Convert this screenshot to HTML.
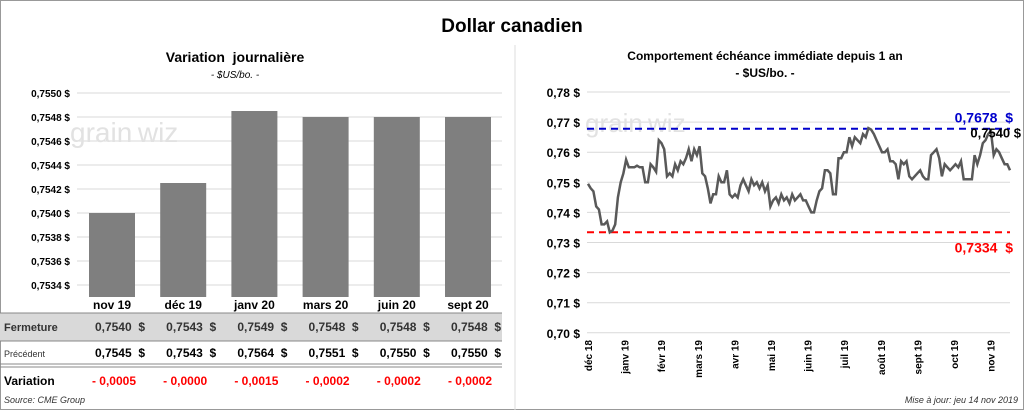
<!DOCTYPE html>
<html><head><meta charset="utf-8"><style>
body{margin:0;width:1024px;height:410px;overflow:hidden;background:#fff;font-family:"Liberation Sans",sans-serif}
svg{display:block}
text{white-space:pre}
</style></head><body>
<svg width="1024" height="410">
<rect x="0.5" y="0.5" width="1023" height="409" fill="#fff" stroke="#999"/>
<text x="512" y="32" text-anchor="middle" font-size="19" font-weight="bold">Dollar canadien</text>
<text x="235" y="62" text-anchor="middle" font-size="14" font-weight="bold">Variation  journalière</text>
<text x="235" y="78" text-anchor="middle" font-size="10" font-style="italic">- $US/bo. -</text>
<text x="765" y="60" text-anchor="middle" font-size="12" font-weight="bold">Comportement échéance immédiate depuis 1 an</text>
<text x="765" y="77" text-anchor="middle" font-size="12" font-weight="bold">- $US/bo. -</text>
<line x1="515" y1="45" x2="515" y2="410" stroke="#ddd"/>
<g id="left"></g>
<g id="table"></g>
<g id="right"></g>
<text x="4" y="403" font-size="9" font-style="italic" fill="#333">Source: CME Group</text>
<text x="1018" y="403" text-anchor="end" font-size="9" font-style="italic" fill="#333">Mise à jour: jeu 14 nov 2019</text>
</svg>
<script>
const barCats=["nov 19","déc 19","janv 20","mars 20","juin 20","sept 20"];
const barVals=[0.7540,0.75425,0.75485,0.7548,0.7548,0.7548];
const yTicksL=[0.7534,0.7536,0.7538,0.7540,0.7542,0.7544,0.7546,0.7548,0.7550];
const closeVals=["0,7540","0,7543","0,7549","0,7548","0,7548","0,7548"];
const prevVals=["0,7545","0,7543","0,7564","0,7551","0,7550","0,7550"];
const varVals=["- 0,0005","- 0,0000","- 0,0015","- 0,0002","- 0,0002","- 0,0002"];
const series=[0.7495,0.748,0.747,0.742,0.741,0.736,0.736,0.737,0.7334,0.734,0.736,0.745,0.750,0.753,0.7575,0.755,0.755,0.755,0.7555,0.755,0.755,0.750,0.750,0.756,0.755,0.7535,0.764,0.763,0.761,0.752,0.753,0.752,0.756,0.754,0.757,0.756,0.758,0.761,0.757,0.761,0.759,0.762,0.753,0.752,0.748,0.743,0.746,0.746,0.752,0.750,0.750,0.754,0.746,0.745,0.746,0.745,0.749,0.751,0.749,0.747,0.751,0.749,0.750,0.748,0.750,0.747,0.749,0.742,0.744,0.745,0.743,0.746,0.744,0.745,0.743,0.746,0.744,0.745,0.746,0.744,0.744,0.742,0.740,0.740,0.744,0.747,0.748,0.754,0.754,0.753,0.746,0.746,0.758,0.758,0.760,0.760,0.765,0.762,0.765,0.764,0.763,0.766,0.765,0.768,0.7675,0.766,0.764,0.762,0.760,0.760,0.761,0.757,0.757,0.756,0.751,0.757,0.756,0.757,0.752,0.751,0.752,0.753,0.754,0.752,0.751,0.751,0.759,0.760,0.761,0.758,0.752,0.756,0.755,0.754,0.755,0.756,0.755,0.757,0.751,0.751,0.751,0.751,0.759,0.756,0.759,0.763,0.764,0.766,0.767,0.759,0.761,0.760,0.758,0.756,0.756,0.754];
const yTicksR=[0.70,0.71,0.72,0.73,0.74,0.75,0.76,0.77,0.78];
const monthLabels=["déc 18","janv 19","févr 19","mars 19","avr 19","mai 19","juin 19","juil 19","août 19","sept 19","oct 19","nov 19"];
const highVal=0.7678, lowVal=0.7334, lastVal=0.7540;
const NS="http://www.w3.org/2000/svg";
function mk(p,t,a,txt){const e=document.createElementNS(NS,t);for(const k in a)e.setAttribute(k,a[k]);if(txt!==undefined)e.textContent=txt;p.appendChild(e);return e;}
const fmt=(v,d)=>v.toFixed(d).replace('.',',')+' $';
const L=document.getElementById('left');
const yL=v=>93+(0.7550-v)/0.0002*24;
const xL=i=>112+i*71.2;
yTicksL.forEach(t=>{const g=mk(L,'line',{x1:77,x2:502,y1:yL(t),y2:yL(t),stroke:'#d9d9d9'});

const l=mk(L,'text',{x:70,y:yL(t)+4,'text-anchor':'end','font-size':10,'font-weight':'bold'},fmt(t,4));
});
mk(L,'text',{x:70,y:142,'font-size':28,fill:'#e2e2e2'},'grain\u2009wiz');
barVals.forEach((v,i)=>{const b=mk(L,'rect',{x:xL(i)-23,y:yL(v),width:46,height:297-yL(v),fill:'#7f7f7f'});
});
const T=document.getElementById('table');
mk(T,'rect',{x:0,y:313,width:502,height:28,fill:'#d9d9d9'});
mk(T,'line',{x1:0,x2:502,y1:313,y2:313,stroke:'#888'});
mk(T,'line',{x1:0,x2:502,y1:341,y2:341,stroke:'#888'});
mk(T,'line',{x1:0,x2:502,y1:364,y2:364,stroke:'#888'});
mk(T,'line',{x1:0,x2:502,y1:367,y2:367,stroke:'#888'});
mk(T,'text',{x:4,y:331,'font-size':11,'font-weight':'bold',fill:'#333'},'Fermeture');
mk(T,'text',{x:4,y:357,'font-size':9,fill:'#333'},'Précédent');
mk(T,'text',{x:4,y:385,'font-size':12,'font-weight':'bold'},'Variation');
barCats.forEach((c,i)=>{
const h=mk(T,'text',{x:xL(i),y:309,'text-anchor':'middle','font-size':12,'font-weight':'bold'},c);

mk(T,'text',{x:xL(i)+33,y:331,'text-anchor':'end','font-size':12,'font-weight':'bold',fill:'#333'},closeVals[i]+'\u00a0\u00a0$');
mk(T,'text',{x:xL(i)+33,y:357,'text-anchor':'end','font-size':12,'font-weight':'bold'},prevVals[i]+'\u00a0\u00a0$');
mk(T,'text',{x:xL(i)+24,y:385,'text-anchor':'end','font-size':12,'font-weight':'bold',fill:'#ff0000'},varVals[i]);
});
const R=document.getElementById('right');
const yR=v=>92+(0.78-v)/0.01*30.1;
const x0=588,x1=1010;
const xR=i=>x0+i*(x1-x0)/(series.length-1);
yTicksR.forEach(t=>{const g=mk(R,'line',{x1:587,x2:1010,y1:yR(t),y2:yR(t),stroke:'#d9d9d9'});

const l=mk(R,'text',{x:580,y:yR(t)+5,'text-anchor':'end','font-size':12,'font-weight':'bold'},fmt(t,2));
});
mk(R,'text',{x:585,y:132,'font-size':26,fill:'#e2e2e2'},'grain\u2009wiz');
monthLabels.forEach((m,i)=>{const x=592+i*36.6;
const l=mk(R,'text',{x:x,y:340,'text-anchor':'end','font-size':10,'font-weight':'bold',transform:`rotate(-90 ${x} 340)`},m);
});
const hi=mk(R,'line',{x1:587,x2:1010,y1:yR(highVal),y2:yR(highVal),stroke:'#0000cc','stroke-width':2,'stroke-dasharray':'7,5'});

const lo=mk(R,'line',{x1:587,x2:1010,y1:yR(lowVal),y2:yR(lowVal),stroke:'#ff0000','stroke-width':2,'stroke-dasharray':'7,5'});

const p=mk(R,'polyline',{points:series.map((v,i)=>xR(i).toFixed(1)+','+yR(v).toFixed(1)).join(' '),fill:'none',stroke:'#595959','stroke-width':2.5});

const hl=mk(R,'text',{x:1013,y:yR(highVal)-6,'text-anchor':'end','font-size':14,'font-weight':'bold',fill:'#0000cc'},fmt(highVal,4).replace(' $','\u00a0\u00a0$'));

const ll=mk(R,'text',{x:1013,y:yR(lowVal)+20,'text-anchor':'end','font-size':14,'font-weight':'bold',fill:'#ff0000'},fmt(lowVal,4).replace(' $','\u00a0\u00a0$'));

const la=mk(R,'text',{x:1021,y:yR(highVal)+9,'text-anchor':'end','font-size':13,'font-weight':'bold',fill:'#000'},fmt(lastVal,4));

</script>
</body></html>
